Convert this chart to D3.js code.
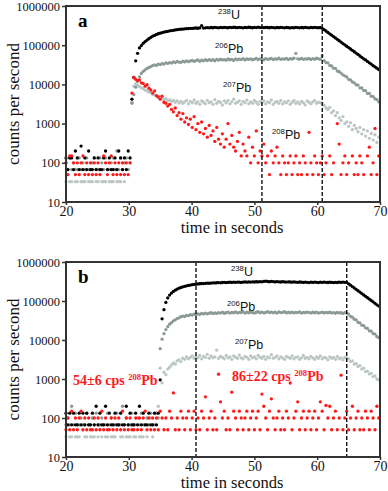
<!DOCTYPE html>
<html>
<head>
<meta charset="utf-8">
<script src="https://cdn.jsdelivr.net/npm/d3@7"></script>
<style>
  body { margin: 0; background: #fff; }
  svg { display: block; }
</style>
</head>
<body>
<svg id="chart"></svg>
<script>
// sweep interval of the detector, seconds
const dt = 0.3;

const xTicks = [20, 30, 40, 50, 60, 70];
const yTicks = [10, 100, 1000, 10000, 100000, 1000000];

// ---- panel a : background 20 - 30.2 s ----
const aBgStart = 20;
const aU238Bg = [133, 67, 133, 133, 67, 200, 133, 67, 267, 67,
                 133, 67, 200, 67, 67, 133, 67, 133, 67, 67,
                 133, 200, 67, 133, 67, 67, 133, 67, 200, 133,
                 67, 133, 67, 200, 133];
const aPb206Bg = [100, 67, 133, 67, 100, 67, 67, 133, 67, 100,
                  67, 133, 67, 67, 100, 133, 67, 67, 133, 100,
                  67, 133, 67, 67, 100, 133, 67, 200, 67, 133,
                  67, 100, 133, 67, 100];
const aPb207Bg = [33, 0, 33, 33, 67, 33, 33, 0, 33, 33,
                  33, 67, 33, 33, 33, 0, 33, 33, 67, 33,
                  33, 33, 0, 33, 33, 33, 67, 33, 33, 33,
                  67, 33, 100, 67, 133];
const aPb208Bg = [100, 50, 150, 150, 100, 50, 100, 50, 100, 150,
                  50, 100, 50, 100, 50, 100, 50, 100, 50, 0,
                  150, 100, 50, 100, 150, 50, 100, 50, 100, 50,
                  100, 50, 100, 50, 100];

// ---- panel a : ablation 30.5 - 69.8 s ----
const aSigStart = 30.5;
const aU238 = [4200, 15000, 40000, 62000, 85000, 98000, 112000, 124000, 135000, 146000,
  158000, 170000, 178000, 188000, 196000, 203000, 210000, 216000, 221000, 226000,
  232000, 236000, 240000, 246000, 249000, 252000, 256000, 258000, 262000, 264000,
  266000, 270000, 268000, 272000, 275000, 271000, 276000, 315000, 274000, 278000,
  281000, 277000, 283000, 279000, 285000, 281000, 278000, 284000, 280000, 286000,
  282000, 279000, 285000, 281000, 287000, 283000, 280000, 286000, 282000, 278000,
  284000, 281000, 287000, 283000, 279000, 285000, 282000, 288000, 281000, 284000,
  280000, 286000, 283000, 279000, 285000, 281000, 277000, 283000, 280000, 286000,
  282000, 278000, 284000, 280000, 276000, 282000, 279000, 285000, 281000, 277000,
  283000, 279000, 285000, 281000, 278000, 284000, 280000, 286000, 282000, 279000,
  283000, 270000, 249000, 230000, 212000, 195000, 180000, 166000, 153000, 141000,
  130000, 120000, 110000, 102000, 94000, 87000, 80000, 74000, 68000, 63000,
  58000, 53000, 49000, 45000, 42000, 38500, 35500, 33000, 30000, 28000,
  26000, 24000];
const aPb206 = [3300, 5500, 8500, 12000, 15500, 19000, 21500, 23500, 25500, 27000,
  28500, 30000, 31500, 30500, 33000, 32000, 34000, 33000, 35500, 34500,
  36000, 35000, 37500, 36000, 38500, 37000, 36500, 39000, 37500, 40000,
  38000, 39500, 41000, 38500, 40500, 42000, 39000, 41500, 40000, 42500,
  40500, 43000, 41000, 42500, 40000, 43500, 41500, 44000, 42000, 43000,
  41500, 44500, 42500, 43500, 41000, 45000, 42500, 44000, 43000, 45500,
  42000, 44500, 43500, 45000, 42500, 44000, 46000, 43000, 45000, 44000,
  42500, 45500, 43500, 44500, 46000, 43000, 45000, 44000, 46500, 43500,
  45000, 44000, 46000, 43000, 45500, 44500, 46500, 62000, 45000, 44000,
  46000, 43500, 45000, 44500, 46000, 43000, 45500, 44000, 46500, 45000,
  44000, 53000, 40500, 36000, 35500, 30500, 29500, 26000, 25500, 22000,
  21000, 19500, 17500, 16500, 15500, 13500, 13000, 11500, 11000, 9800,
  9600, 8200, 8100, 7000, 6900, 5900, 5900, 5000, 4900, 4300,
  4100, 3600];
const aPb207 = [3500, 9000, 10500, 9500, 8800, 8200, 7800, 7200, 6800, 6400,
  6200, 5600, 5400, 5000, 4700, 4900, 4400, 4100, 4300, 3900,
  4000, 3700, 3900, 3500, 3800, 3400, 3700, 3300, 3600, 3900,
  3200, 3700, 3400, 4000, 3300, 3600, 3100, 3800, 3500, 3200,
  3900, 3400, 3600, 3100, 4100, 3300, 3700, 3500, 3000, 3800,
  3400, 3900, 3200, 3600, 4200, 3300, 3500, 3800, 3100, 3700,
  3400, 4000, 3200, 3600, 3300, 3900, 3500, 3100, 3700, 3400,
  3800, 3200, 3600, 3400, 4000, 3100, 3500, 3700, 3300, 3900,
  3200, 3600, 3400, 3800, 3100, 3500, 3900, 3300, 3600, 3200,
  3700, 3400, 3000, 3800, 3500, 3200, 3600, 3900, 3300, 3500,
  3400, 3300, 2900, 2500, 2300, 2600, 1900, 2100, 1600, 1900,
  1400, 1200, 1500, 1000, 1100, 850, 1050, 700, 900, 750,
  620, 800, 550, 700, 480, 650, 420, 560, 380, 520,
  330, 450];
const aPb208 = [6000, 15000, 13500, 12500, 13000, 11000, 10500, 9000, 9800, 8000,
  7200, 6000, 6800, 5200, 4800, 4200, 5000, 3500, 3300, 2800,
  3100, 2300, 2000, 2500, 1600, 1900, 1300, 1800, 1100, 1400,
  950, 1300, 800, 1500, 700, 1000, 600, 1100, 550, 750,
  450, 900, 500, 650, 350, 800, 400, 300, 550, 250,
  400, 1000, 300, 500, 250, 200, 350, 600, 150, 300,
  200, 150, 450, 100, 250, 150, 650, 100, 200, 150,
  300, 100, 150, 50, 200, 100, 150, 250, 100, 50,
  150, 100, 50, 100, 150, 50, 100, 150, 50, 100,
  50, 150, 100, 50, 600, 100, 50, 150, 100, 50,
  100, 150, 50, 100, 0, 150, 50, 100, 0, 1000,
  300, 50, 100, 150, 50, 100, 0, 150, 50, 100,
  50, 150, 100, 50, 0, 150, 250, 50, 100, 750,
  50, 150];

// ---- panel b : background 20 - 34.7 s ----
const bBgStart = 20;
const bU238Bg = [133, 67, 133, 67, 133, 67, 67, 133, 67, 133,
                 67, 133, 67, 67, 133, 67, 200, 67, 133, 67,
                 67, 200, 67, 133, 67, 67, 133, 67, 67, 133,
                 67, 67, 200, 67, 133, 67, 67, 133, 67, 200,
                 67, 133, 67, 67, 133, 67, 67, 133, 67, 133];
const bPb206Bg = [67, 100, 67, 200, 67, 133, 67, 67, 100, 67,
                  67, 133, 67, 67, 100, 67, 133, 67, 67, 100,
                  67, 67, 133, 67, 100, 67, 67, 133, 67, 67,
                  200, 67, 100, 67, 67, 133, 67, 67, 100, 67,
                  133, 67, 67, 100, 67, 133, 67, 67, 133, 100];
const bPb207Bg = [33, 0, 33, 33, 0, 33, 33, 33, 0, 67,
                  33, 33, 0, 33, 33, 33, 0, 33, 67, 33,
                  0, 33, 33, 0, 33, 33, 33, 0, 67, 33,
                  33, 0, 33, 33, 33, 67, 33, 33, 0, 33,
                  33, 33, 0, 33, 67, 100, 33, 133, 67, 200];

// ---- panel b : ablation 35 - 69.8 s ----
const bSigStart = 35;
const bU238 = [950, 35000, 60000, 92000, 120000, 142000, 160000, 176000, 190000, 202000,
  213000, 222000, 231000, 238000, 245000, 251000, 256000, 262000, 266000, 270000,
  274000, 277000, 281000, 279000, 284000, 287000, 285000, 289000, 292000, 290000,
  294000, 297000, 293000, 298000, 301000, 296000, 300000, 303000, 299000, 304000,
  301000, 306000, 303000, 299000, 305000, 308000, 304000, 309000, 306000, 311000,
  307000, 312000, 309000, 315000, 311000, 318000, 325000, 316000, 312000, 318000,
  314000, 309000, 315000, 311000, 307000, 313000, 309000, 305000, 311000, 307000,
  303000, 309000, 305000, 301000, 307000, 303000, 299000, 305000, 301000, 297000,
  303000, 299000, 305000, 301000, 297000, 303000, 299000, 305000, 301000, 298000,
  304000, 300000, 296000, 302000, 298000, 304000, 300000, 306000, 302000, 300000,
  276000, 254000, 234000, 216000, 199000, 183000, 169000, 155000, 143000, 132000,
  121000, 112000, 103000, 95000, 87000, 80000, 74000];
const bPb206 = [6000, 10500, 14500, 18500, 22000, 25500, 28000, 31000, 33000, 35500,
  37000, 39500, 41000, 40000, 43000, 42000, 44500, 43500, 46000, 45000,
  47000, 45500, 48000, 46500, 49000, 47000, 48500, 50000, 47500, 49500,
  48000, 50500, 49000, 51500, 48500, 50000, 52000, 49000, 51000, 50000,
  52500, 49500, 51000, 50500, 53000, 49000, 51500, 50000, 52000, 50500,
  49000, 51500, 53000, 50000, 52000, 49500, 51000, 53500, 50500, 52000,
  50000, 51500, 49000, 52500, 50500, 51000, 53000, 49500, 51500, 50000,
  52000, 49500, 51000, 50500, 52500, 49000, 51000, 50000, 52000, 50500,
  49500, 51500, 50000, 52000, 49000, 50500, 51500, 49500, 51000, 50000,
  51500, 49500, 50500, 48500, 51000, 49500, 50000, 48000, 50500, 49000,
  46000, 40500, 38500, 34000, 33000, 28500, 27500, 24000, 23500, 20500,
  19800, 17200, 16800, 14600, 14200, 12300, 11500];
const bPb207 = [1900, 800, 1500, 1300, 1800, 2000, 2300, 2600, 2400, 2900,
  3100, 2800, 3400, 3200, 3700, 3300, 3600, 3900, 3400, 3700,
  3500, 4000, 3300, 3800, 3600, 4300, 3400, 3900, 3500, 3700,
  5500, 3400, 3800, 3600, 3300, 4000, 3500, 3700, 3200, 3900,
  3600, 3400, 4100, 3500, 3300, 3800, 3600, 3200, 3900, 3500,
  3700, 3300, 4000, 3600, 3400, 3800, 3200, 3700, 3500, 4200,
  3400, 3600, 3900, 3300, 3700, 3500, 3200, 3800, 3600, 3400,
  3900, 3300, 3600, 3700, 3200, 3500, 4000, 3400, 3600, 3300,
  3800, 3500, 3200, 3700, 3400, 3900, 3300, 3600, 3500, 3100,
  3700, 3400, 3600, 3200, 3800, 3300, 3500, 3100, 3600, 3400,
  3300, 2800, 2900, 2400, 2500, 2100, 2200, 1800, 1900, 1550,
  1600, 1350, 1400, 1150, 1200, 1000, 950];
// 208Pb in panel b stays at blank level over the whole run, 20 - 69.8 s
const bPb208Start = 20;
const bPb208 = [50, 100, 50, 150, 50, 100, 50, 100, 150, 50,
  100, 50, 100, 50, 50, 100, 50, 100, 50, 150,
  50, 100, 50, 50, 100, 50, 100, 50, 100, 50,
  150, 50, 100, 50, 100, 50, 50, 100, 50, 100,
  50, 100, 150, 50, 100, 50, 100, 50, 100, 50,
  150, 100, 50, 100, 50, 150, 100, 440, 50, 100,
  50, 150, 100, 50, 100, 150, 50, 100, 150, 50,
  100, 50, 150, 100, 350, 50, 100, 150, 50, 100,
  50, 1330, 260, 100, 150, 50, 100, 50, 460, 150,
  100, 50, 150, 100, 50, 100, 150, 50, 100, 150,
  50, 100, 150, 50, 410, 200, 100, 50, 150, 310,
  100, 50, 100, 150, 50, 100, 50, 150, 100, 790,
  50, 100, 150, 260, 50, 100, 150, 50, 100, 150,
  50, 100, 150, 50, 100, 260, 150, 50, 210, 100,
  200, 50, 100, 150, 50, 100, 1250, 50, 100, 150,
  50, 100, 200, 50, 100, 150, 50, 100, 50, 150,
  100, 50, 150, 100, 50, 200, 100];

const colors = { u238: '#000000', pb206: '#8b9997', pb207: '#bcc7c5', pb208: '#ff1a1a' };
const serif = '"Liberation Serif", "Times New Roman", serif';

function toPoints(start, values) {
    return values.map((v, i) => ({ t: start + i * dt, v: v })).filter(d => d.v > 0);
}

const svg = d3.select('#chart').attr('width', 388).attr('height', 491);

function drawPanel(cfg) {
    const x = d3.scaleLinear().domain([20, 70]).range([cfg.left, cfg.right]);
    const y = d3.scaleLog().domain([10, 1000000]).range([cfg.bottom, cfg.top]);

    const g = svg.append('g');

    // series, light ones first
    cfg.series.forEach(s => {
        g.append('g').selectAll('circle')
            .data(s.points)
            .join('circle')
            .attr('cx', d => x(d.t))
            .attr('cy', d => y(d.v))
            .attr('r', 1.65)
            .attr('fill', s.color);
    });

    // integration window
    cfg.dashes.forEach(t => {
        g.append('line')
            .attr('x1', x(t)).attr('x2', x(t))
            .attr('y1', cfg.top).attr('y2', cfg.bottom)
            .attr('stroke', '#111')
            .attr('stroke-width', 1.4)
            .attr('stroke-dasharray', '4,2');
    });

    g.append('rect')
        .attr('x', cfg.left).attr('y', cfg.top)
        .attr('width', cfg.right - cfg.left)
        .attr('height', cfg.bottom - cfg.top)
        .attr('fill', 'none')
        .attr('stroke', '#333')
        .attr('stroke-width', 2);

    const yAxis = g.append('g')
        .attr('transform', `translate(${cfg.left},0)`)
        .call(d3.axisLeft(y).tickValues(yTicks).tickFormat(d3.format('d')).tickSize(4).tickPadding(2));
    yAxis.select('.domain').remove();
    yAxis.selectAll('.tick line').attr('stroke', '#333').attr('stroke-width', 1.5);
    yAxis.selectAll('text')
        .attr('fill', '#111')
        .style('font-family', serif)
        .style('font-size', '12.5px');

    const xAxis = g.append('g')
        .attr('transform', `translate(0,${cfg.bottom})`)
        .call(d3.axisBottom(x).tickValues(xTicks).tickSize(3).tickPadding(1));
    xAxis.select('.domain').remove();
    xAxis.selectAll('.tick line').attr('stroke', '#333').attr('stroke-width', 1.5);
    xAxis.selectAll('text')
        .attr('fill', '#111')
        .style('font-family', serif)
        .style('font-size', '14px');

    // axis titles
    g.append('text')
        .attr('x', (cfg.left + cfg.right) / 2 + 9)
        .attr('y', cfg.bottom + 31)
        .attr('text-anchor', 'middle')
        .style('font-family', serif)
        .style('font-size', '16.5px')
        .attr('fill', '#111')
        .text('time in seconds');

    g.append('text')
        .attr('transform', `translate(19,${(cfg.top + cfg.bottom) / 2}) rotate(-90)`)
        .attr('text-anchor', 'middle')
        .style('font-family', serif)
        .style('font-size', '17px')
        .attr('fill', '#111')
        .text('counts per second');

    // panel letter
    g.append('text')
        .attr('x', cfg.left + 12)
        .attr('y', cfg.top + 21)
        .style('font-family', serif)
        .style('font-size', '19px')
        .style('font-weight', 'bold')
        .text(cfg.letter);

    // isotope labels
    cfg.labels.forEach(l => {
        const txt = g.append('text')
            .attr('x', l.x).attr('y', l.y)
            .attr('fill', l.color || '#111')
            .style('font-family', l.serif ? serif : '"Liberation Sans", Arial, sans-serif')
            .style('font-weight', l.serif ? 'bold' : 'normal')
            .style('font-size', l.size + 'px');
        if (l.pre) txt.append('tspan').text(l.pre);
        txt.append('tspan')
            .attr('dy', -l.size * 0.38)
            .style('font-size', (l.size * 0.62) + 'px')
            .text(l.mass);
        txt.append('tspan')
            .attr('dy', l.size * 0.38)
            .text(l.el);
    });
}

drawPanel({
    letter: 'a', left: 66, right: 380, top: 6, bottom: 202,
    dashes: [51.2, 60.8],
    series: [
        { color: colors.pb207, points: toPoints(aBgStart, aPb207Bg).concat(toPoints(aSigStart, aPb207)) },
        { color: colors.pb206, points: toPoints(aBgStart, aPb206Bg).concat(toPoints(aSigStart, aPb206)) },
        { color: colors.u238, points: toPoints(aBgStart, aU238Bg).concat(toPoints(aSigStart, aU238)) },
        { color: colors.pb208, points: toPoints(aBgStart, aPb208Bg).concat(toPoints(aSigStart, aPb208)) }
    ],
    labels: [
        { x: 218, y: 19, size: 12.5, mass: '238', el: 'U' },
        { x: 215, y: 53, size: 12.5, mass: '206', el: 'Pb' },
        { x: 223, y: 92, size: 12.5, mass: '207', el: 'Pb' },
        { x: 272, y: 139, size: 12.5, mass: '208', el: 'Pb' }
    ]
});

drawPanel({
    letter: 'b', left: 66, right: 380, top: 262, bottom: 457,
    dashes: [40.7, 64.7],
    series: [
        { color: colors.pb207, points: toPoints(bBgStart, bPb207Bg).concat(toPoints(bSigStart, bPb207)) },
        { color: colors.pb206, points: toPoints(bBgStart, bPb206Bg).concat(toPoints(bSigStart, bPb206)) },
        { color: colors.u238, points: toPoints(bBgStart, bU238Bg).concat(toPoints(bSigStart, bU238)) },
        { color: colors.pb208, points: toPoints(bPb208Start, bPb208) }
    ],
    labels: [
        { x: 231, y: 276, size: 12.5, mass: '238', el: 'U' },
        { x: 227, y: 311, size: 12.5, mass: '206', el: 'Pb' },
        { x: 235, y: 349, size: 12.5, mass: '207', el: 'Pb' },
        { x: 73, y: 385, size: 14, mass: '208', el: 'Pb', pre: '54±6 cps ', serif: true, color: '#ff1a1a' },
        { x: 232, y: 381, size: 14, mass: '208', el: 'Pb', pre: '86±22 cps ', serif: true, color: '#ff1a1a' }
    ]
});
</script>
</body>
</html>
